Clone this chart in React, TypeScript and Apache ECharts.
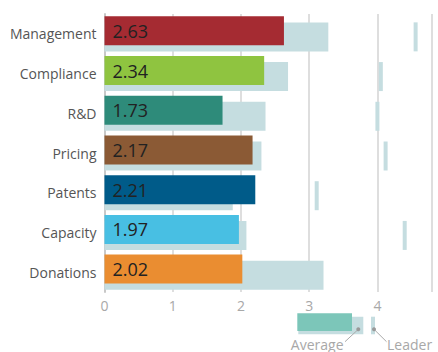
import React, { useEffect, useRef } from "react";
import * as echarts from "echarts";

const categories = ["Management", "Compliance", "R&D", "Pricing", "Patents", "Capacity", "Donations"];
const scores = [2.63, 2.34, 1.73, 2.17, 2.21, 1.97, 2.02];
const averages = [3.28, 2.69, 2.36, 2.3, 1.88, 2.08, 3.21];
const leaders: (number | null)[] = [4.56, 4.05, 4.0, 4.12, 3.11, 4.4, null];
const colors = ["#a52b32", "#8fc440", "#2e8b7a", "#8b5a35", "#005b89", "#48bfe3", "#ea8d31"];
const xTicks = [0, 1, 2, 3, 4];

const FONT = "Open Sans";

export default function App() {
  const ref = useRef<HTMLDivElement>(null);
  useEffect(() => {
    if (!ref.current) return;
    const chart = echarts.init(ref.current, null, { renderer: "svg" });
    chart.setOption({
      animation: false,
      grid: { left: 104.5, top: 14, width: 327.5, height: 278, containLabel: false },
      xAxis: {
        type: "value",
        min: 0,
        max: 4.8,
        interval: 1,
        axisLine: { show: false },
        axisTick: { show: false },
        splitLine: { show: true, lineStyle: { color: "#dedede", width: 2 } },
        axisLabel: {
          color: "#a8a8a8",
          fontFamily: FONT,
          fontSize: 14,
          margin: 6,
          formatter: (v: number) => (xTicks.includes(v) ? String(v) : ""),
        },
      },
      yAxis: {
        type: "category",
        data: categories,
        inverse: true,
        axisLine: { show: true, lineStyle: { color: "#c8c8c8", width: 2 } },
        axisTick: { show: false },
        axisLabel: { color: "#555", fontFamily: FONT, fontSize: 14, margin: 8 },
      },
      series: [
        {
          type: "bar",
          name: "Score",
          data: scores.map((v, i) => ({ value: v, itemStyle: { color: colors[i] } })),
          barWidth: 29,
          barGap: "-79%",
          z: 3,
          label: {
            show: true,
            position: "insideLeft",
            distance: 8,
            color: "#222",
            fontFamily: FONT,
            fontSize: 18,
            formatter: (p: any) => p.value.toFixed(2),
          },
        },
        {
          type: "bar",
          name: "Average",
          data: averages,
          barWidth: 29,
          z: 2,
          itemStyle: { color: "#c5dde0" },
        },
        {
          type: "scatter",
          name: "Leader",
          data: leaders.map((v, i) => (v == null ? null : [v, i])),
          symbol: "rect",
          symbolSize: [4, 29],
          symbolOffset: [0, 3],
          itemStyle: { color: "#c5dde0", opacity: 1 },
          z: 1,
        },
      ],
      graphic: [
        { type: "rect", shape: { x: 298.3, y: 316.7, width: 65, height: 17.6 }, style: { fill: "#c5dde0" } },
        { type: "rect", shape: { x: 297.3, y: 313.3, width: 54.7, height: 17.7 }, style: { fill: "#7cc6b9" } },
        { type: "rect", shape: { x: 371, y: 316.7, width: 4, height: 17.6 }, style: { fill: "#c5dde0" } },
        { type: "line", shape: { x1: 358.3, y1: 329.3, x2: 345, y2: 341.7 }, style: { stroke: "#aaa", lineWidth: 1 } },
        { type: "line", shape: { x1: 374, y1: 329.3, x2: 386.5, y2: 341.7 }, style: { stroke: "#aaa", lineWidth: 1 } },
        { type: "circle", shape: { cx: 358.3, cy: 329.3, r: 2 }, style: { fill: "#999" } },
        { type: "circle", shape: { cx: 374, cy: 329.3, r: 2 }, style: { fill: "#999" } },
        {
          type: "text",
          x: 343.5,
          y: 351,
          style: { text: "Average", fill: "#a8a8a8", font: `14px "${FONT}"`, align: "right", verticalAlign: "bottom" },
        },
        {
          type: "text",
          x: 387,
          y: 351,
          style: { text: "Leader", fill: "#a8a8a8", font: `14px "${FONT}"`, align: "left", verticalAlign: "bottom" },
        },
      ],
    });
    return () => chart.dispose();
  }, []);
  return <div ref={ref} style={{ width: 438, height: 352, position: "absolute", left: 0, top: 0 }} />;
}
